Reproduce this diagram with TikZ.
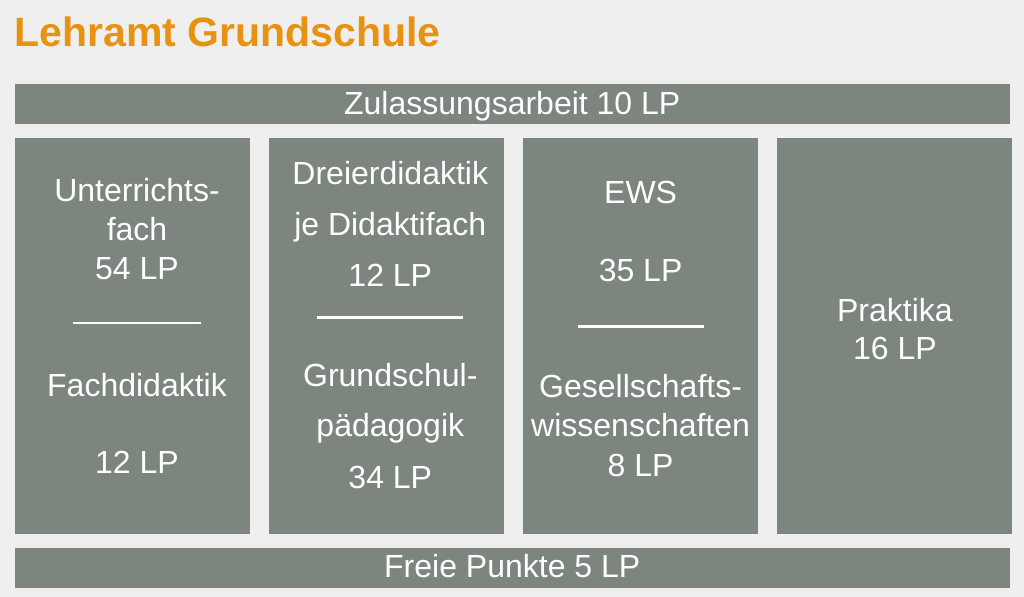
\documentclass[tikz,border=0pt]{standalone}
\usepackage{fontspec}
\setmainfont{Liberation Sans}
\usetikzlibrary{positioning}
\definecolor{cBg}{RGB}{239, 239, 239}
\definecolor{cBox}{RGB}{124, 134, 126}
\definecolor{cTitle}{RGB}{232, 146, 18}
\tikzset{
    % Spalten
    colNode/.style={
        rectangle, fill=cBox, draw=none, inner sep=0pt,
        minimum width=117.5pt, minimum height=198pt
    },
    % Balken oben und unten
    barNode/.style={
        rectangle, fill=cBox, draw=none, inner sep=0pt,
        minimum width=497.75pt, minimum height=20pt,
        text height=12pt, text depth=2pt,
        text=white, font=\fontsize{16}{19}\selectfont
    },
    % Textzeilen
    lineText/.style={
        anchor=base, inner sep=0pt, text=white,
        font=\fontsize{16}{19}\selectfont
    },
    % Trennlinie
    sepLine/.style={
        draw=white, line width=1.4pt
    }
}
\begin{document}
\begin{tikzpicture}[node distance=9.25pt]

	% Hintergrund
	\fill[cBg] (0,0) rectangle (512pt,-298.5pt);
	\useasboundingbox (0,0) rectangle (512pt,-298.5pt);

	% Titel
	\node[anchor=base west, inner sep=0pt, text=cTitle, font=\fontsize{20.5}{24}\selectfont\bfseries] (title) at (7pt,-23.5pt) {Lehramt Grundschule};

	% 1. Spalten
	\node[colNode] (col1) at (66pt,-168pt) {};
	\node[colNode, right=of col1] (col2) {};
	\node[colNode, right=of col2] (col3) {};
	\node[colNode, right=of col3] (col4) {};

	% 2. Balken
	\node[barNode, above right=6.5pt and 0pt of col1.north west] (zulassung) {Zulassungsarbeit 10 LP};
	\node[barNode, below right=6.5pt and 0pt of col1.south west] (freie) {Freie Punkte 5 LP};

	% 3. Unterrichtsfach
	\node[lineText] (uf1) at ([xshift=2.5pt, yshift=-32pt]col1.north) {Unterrichts-};
	\node[lineText] (uf2) at ([xshift=2.5pt, yshift=-51.5pt]col1.north) {fach};
	\node[lineText] (uf3) at ([xshift=2.5pt, yshift=-71pt]col1.north) {54 LP};
	\draw[sepLine] ([xshift=-29.5pt, yshift=-92.75pt]col1.north) -- ([xshift=34.5pt, yshift=-92.75pt]col1.north);
	\node[lineText] (fd1) at ([xshift=2.5pt, yshift=-129.5pt]col1.north) {Fachdidaktik};
	\node[lineText] (fd2) at ([xshift=2.5pt, yshift=-168pt]col1.north) {12 LP};

	% 4. Dreierdidaktik
	\node[lineText] (dd1) at ([xshift=2pt, yshift=-23.5pt]col2.north) {Dreierdidaktik};
	\node[lineText] (dd2) at ([xshift=2pt, yshift=-49pt]col2.north) {je Didaktifach};
	\node[lineText] (dd3) at ([xshift=2pt, yshift=-74.5pt]col2.north) {12 LP};
	\draw[sepLine] ([xshift=-34.5pt, yshift=-90pt]col2.north) -- ([xshift=38.5pt, yshift=-90pt]col2.north);
	\node[lineText] (gp1) at ([xshift=2pt, yshift=-124.5pt]col2.north) {Grundschul-};
	\node[lineText] (gp2) at ([xshift=2pt, yshift=-149.5pt]col2.north) {pädagogik};
	\node[lineText] (gp3) at ([xshift=2pt, yshift=-175.5pt]col2.north) {34 LP};

	% 5. EWS
	\node[lineText] (ews1) at ([yshift=-33pt]col3.north) {EWS};
	\node[lineText] (ews2) at ([yshift=-72pt]col3.north) {35 LP};
	\draw[sepLine] ([xshift=-31.5pt, yshift=-94.5pt]col3.north) -- ([xshift=31.5pt, yshift=-94.5pt]col3.north);
	\node[lineText] (gw1) at ([yshift=-130pt]col3.north) {Gesellschafts-};
	\node[lineText] (gw2) at ([yshift=-149.5pt]col3.north) {wissenschaften};
	\node[lineText] (gw3) at ([yshift=-169.5pt]col3.north) {8 LP};

	% 6. Praktika
	\node[lineText] (pr1) at ([yshift=-92pt]col4.north) {Praktika};
	\node[lineText] (pr2) at ([yshift=-111pt]col4.north) {16 LP};

\end{tikzpicture}
\end{document}
